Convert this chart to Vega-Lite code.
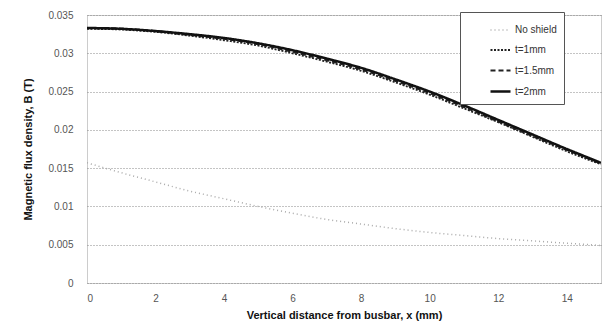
{
  "$schema": "https://vega.github.io/schema/vega-lite/v6.json",
  "width": 514,
  "height": 268,
  "autosize": {"type": "none"},
  "padding": {"left": 87, "top": 15, "right": 1, "bottom": 50},
  "background": "white",
  "config": {
    "font": "Liberation Sans",
    "view": {"stroke": "#999999", "strokeDash": [1, 1], "strokeWidth": 1}
  },
  "data": {
    "values": [
      {"x": 0, "B": 0.0157, "series": "No shield"},
      {"x": 1, "B": 0.0144, "series": "No shield"},
      {"x": 2, "B": 0.0132, "series": "No shield"},
      {"x": 3, "B": 0.0120, "series": "No shield"},
      {"x": 4, "B": 0.0110, "series": "No shield"},
      {"x": 5, "B": 0.0100, "series": "No shield"},
      {"x": 6, "B": 0.0091, "series": "No shield"},
      {"x": 7, "B": 0.0083, "series": "No shield"},
      {"x": 8, "B": 0.0077, "series": "No shield"},
      {"x": 9, "B": 0.0071, "series": "No shield"},
      {"x": 10, "B": 0.0066, "series": "No shield"},
      {"x": 11, "B": 0.0062, "series": "No shield"},
      {"x": 12, "B": 0.0058, "series": "No shield"},
      {"x": 13, "B": 0.0055, "series": "No shield"},
      {"x": 14, "B": 0.0052, "series": "No shield"},
      {"x": 15, "B": 0.0049, "series": "No shield"},
      {"x": 0, "B": 0.0332, "series": "t=1mm"},
      {"x": 1, "B": 0.0331, "series": "t=1mm"},
      {"x": 2, "B": 0.0328, "series": "t=1mm"},
      {"x": 3, "B": 0.0323, "series": "t=1mm"},
      {"x": 4, "B": 0.0317, "series": "t=1mm"},
      {"x": 5, "B": 0.0310, "series": "t=1mm"},
      {"x": 6, "B": 0.0300, "series": "t=1mm"},
      {"x": 7, "B": 0.0289, "series": "t=1mm"},
      {"x": 8, "B": 0.0277, "series": "t=1mm"},
      {"x": 9, "B": 0.0262, "series": "t=1mm"},
      {"x": 10, "B": 0.0246, "series": "t=1mm"},
      {"x": 11, "B": 0.0228, "series": "t=1mm"},
      {"x": 12, "B": 0.0210, "series": "t=1mm"},
      {"x": 13, "B": 0.0191, "series": "t=1mm"},
      {"x": 14, "B": 0.0172, "series": "t=1mm"},
      {"x": 15, "B": 0.0155, "series": "t=1mm"},
      {"x": 0, "B": 0.0333, "series": "t=1.5mm"},
      {"x": 1, "B": 0.0332, "series": "t=1.5mm"},
      {"x": 2, "B": 0.0329, "series": "t=1.5mm"},
      {"x": 3, "B": 0.0324, "series": "t=1.5mm"},
      {"x": 4, "B": 0.0319, "series": "t=1.5mm"},
      {"x": 5, "B": 0.0312, "series": "t=1.5mm"},
      {"x": 6, "B": 0.0302, "series": "t=1.5mm"},
      {"x": 7, "B": 0.0291, "series": "t=1.5mm"},
      {"x": 8, "B": 0.0279, "series": "t=1.5mm"},
      {"x": 9, "B": 0.0264, "series": "t=1.5mm"},
      {"x": 10, "B": 0.0248, "series": "t=1.5mm"},
      {"x": 11, "B": 0.0230, "series": "t=1.5mm"},
      {"x": 12, "B": 0.0211, "series": "t=1.5mm"},
      {"x": 13, "B": 0.0192, "series": "t=1.5mm"},
      {"x": 14, "B": 0.0174, "series": "t=1.5mm"},
      {"x": 15, "B": 0.0156, "series": "t=1.5mm"},
      {"x": 0, "B": 0.0333, "series": "t=2mm"},
      {"x": 1, "B": 0.0332, "series": "t=2mm"},
      {"x": 2, "B": 0.0329, "series": "t=2mm"},
      {"x": 3, "B": 0.0325, "series": "t=2mm"},
      {"x": 4, "B": 0.0320, "series": "t=2mm"},
      {"x": 5, "B": 0.0313, "series": "t=2mm"},
      {"x": 6, "B": 0.0304, "series": "t=2mm"},
      {"x": 7, "B": 0.0293, "series": "t=2mm"},
      {"x": 8, "B": 0.0281, "series": "t=2mm"},
      {"x": 9, "B": 0.0266, "series": "t=2mm"},
      {"x": 10, "B": 0.0250, "series": "t=2mm"},
      {"x": 11, "B": 0.0232, "series": "t=2mm"},
      {"x": 12, "B": 0.0213, "series": "t=2mm"},
      {"x": 13, "B": 0.0194, "series": "t=2mm"},
      {"x": 14, "B": 0.0175, "series": "t=2mm"},
      {"x": 15, "B": 0.0157, "series": "t=2mm"}
    ]
  },
  "mark": {"type": "line", "interpolate": "monotone", "clip": true},
  "encoding": {
    "x": {
      "field": "x", "type": "quantitative",
      "scale": {"domain": [0, 15], "nice": false, "zero": false},
      "axis": {
        "title": "Vertical distance from busbar, x (mm)",
        "values": [0, 2, 4, 6, 8, 10, 12, 14],
        "grid": false, "ticks": false, "domain": false,
        "labelFont": "Liberation Sans", "labelFontSize": 10, "labelColor": "#555555",
        "labelPadding": 10,
        "titleFont": "Liberation Sans", "titleFontSize": 11, "titleFontWeight": "bold",
        "titleColor": "#111111", "titlePadding": 6
      }
    },
    "y": {
      "field": "B", "type": "quantitative",
      "scale": {"domain": [0, 0.035], "nice": false},
      "axis": {
        "title": "Magnetic flux density, B (T)",
        "values": [0, 0.005, 0.01, 0.015, 0.02, 0.025, 0.03, 0.035],
        "format": ".3~f",
        "grid": true, "gridColor": "#888888", "gridDash": [1, 2], "gridWidth": 1,
        "ticks": false, "domain": false,
        "labelFont": "Liberation Sans", "labelFontSize": 10, "labelColor": "#555555",
        "labelPadding": 14,
        "titleFont": "Liberation Sans", "titleFontSize": 11, "titleFontWeight": "bold",
        "titleColor": "#111111", "titlePadding": 14
      }
    },
    "color": {
      "field": "series", "type": "nominal",
      "scale": {"domain": ["No shield", "t=1mm", "t=1.5mm", "t=2mm"], "range": ["#aaaaaa", "#222222", "#222222", "#111111"]},
      "legend": {
        "title": null, "orient": "none", "legendX": 373, "legendY": -3,
        "fillColor": "white", "strokeColor": "#555555", "padding": 7,
        "labelFont": "Liberation Sans", "labelFontSize": 10, "labelColor": "#333333",
        "labelExpr": "datum.label + '\u00a0\u00a0\u00a0\u00a0\u00a0\u00a0\u00a0\u00a0\u00a0\u00a0\u00a0\u00a0\u00a0\u00a0\u00a0\u00a0\u00a0\u00a0\u00a0\u00a0'",
        "symbolType": "stroke", "symbolSize": 400, "symbolOffset": 22,
        "rowPadding": 4, "labelOffset": 3, "labelLimit": 300
      }
    },
    "strokeDash": {
      "field": "series", "type": "nominal",
      "scale": {"domain": ["No shield", "t=1mm", "t=1.5mm", "t=2mm"], "range": [[1, 3], [2, 1.5], [5, 3], [1, 0]]},
      "legend": null
    },
    "strokeWidth": {
      "field": "series", "type": "nominal",
      "scale": {"domain": ["No shield", "t=1mm", "t=1.5mm", "t=2mm"], "range": [1.5, 2.5, 2.5, 2.5]},
      "legend": null
    }
  }
}
